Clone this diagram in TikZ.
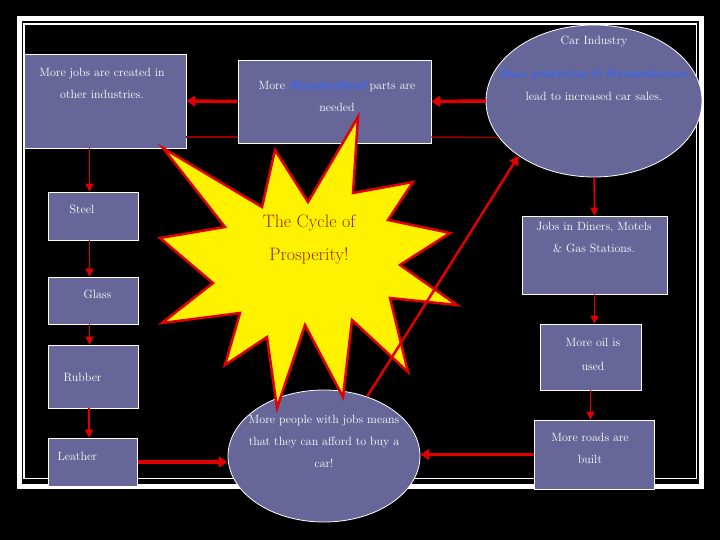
\documentclass[tikz,border=0pt]{standalone}
\usetikzlibrary{arrows.meta,shapes.geometric}
\definecolor{slate}{RGB}{102,102,153}
\definecolor{arrowred}{RGB}{225,0,0}
\definecolor{darkline}{RGB}{150,0,0}
\definecolor{inkblue}{RGB}{51,102,255}
\definecolor{cyclebrown}{RGB}{150,40,0}
\newcommand{\hilite}[1]{\textcolor{inkblue}{\bfseries\itshape #1}}
\begin{document}
\begin{tikzpicture}[x=1pt, y=-1pt,
  box/.style={draw=white, fill=slate, line width=0.8pt, inner sep=0pt},
  bubble/.style={ellipse, draw=white, fill=slate, line width=0.8pt, inner sep=0pt},
  txt/.style={text=white, align=center, font=\fontsize{12}{22}\selectfont},
  fat/.style={draw=arrowred, line width=3.5pt, -{Triangle[length=9pt,width=11pt]}},
  slim/.style={draw=arrowred, line width=1.6pt, -{Triangle[length=8pt,width=8pt]}},
  tie/.style={draw=darkline, line width=1.5pt}]
  \fill[black] (0,0) rectangle (720,540);
  \useasboundingbox (0,0) rectangle (720,540);
  % frame
  \draw[white, line width=5pt] (19,18.5) rectangle (701.5,486);
  \draw[white, line width=1.5pt] (24,24) rectangle (696.5,478.5);
  % boxes
  \node[box, minimum width=162, minimum height=94] (jobs) at (105,101) {};
  \node[box, minimum width=193, minimum height=83] (parts) at (334.5,101.5) {};
  \node[bubble, minimum width=216, minimum height=152] (car) at (594,101) {};
  \node[box, minimum width=90, minimum height=48] (steel) at (93.5,216) {};
  \node[box, minimum width=90, minimum height=47] (glass) at (93.5,300.5) {};
  \node[box, minimum width=90, minimum height=63] (rubber) at (93.5,376.5) {};
  \node[box, minimum width=89, minimum height=48] (leather) at (93,462) {};
  \node[bubble, minimum width=192, minimum height=132] (people) at (324,456) {};
  \node[box, minimum width=145, minimum height=78] (diners) at (594.5,255) {};
  \node[box, minimum width=101, minimum height=66] (oil) at (590.5,357) {};
  \node[box, minimum width=120, minimum height=69] (roads) at (594,454.5) {};
  % texts
  \node[txt] (jobstext) at (102,83) {More jobs are created in\\other industries.};
  \node[txt] (partstext) at (337,96) {More \hilite{Standardized} parts are\\needed};
  \node[txt] (cartitle) at (594,42) {Car Industry};
  \node[txt, font=\fontsize{10.5}{22}\selectfont] (carmass) at (594,75) {\hilite{Mass production \& Standardization}};
  \node[txt] (carsales) at (594,96) {lead to increased car sales.};
  \node[txt, anchor=west] (steeltext) at (66,209) {Steel};
  \node[txt, anchor=west] (glasstext) at (80,294) {Glass};
  \node[txt, anchor=west] (rubbertext) at (60,377) {Rubber};
  \node[txt, anchor=west] (leathertext) at (54,456) {Leather};
  \node[txt] (dinerstext) at (594,237.5) {Jobs in Diners, Motels\\\& Gas Stations.};
  \node[txt, font=\fontsize{12}{24}\selectfont] (oiltext) at (593,354) {More oil is\\used};
  \node[txt] (roadstext) at (590,448) {More roads are\\built};
  \node[txt] (peopletext) at (324,441) {More people with jobs means\\that they can afford to buy a\\car!};
  % connectors
  \draw[tie] ([yshift=-36]jobs.east) -- ([yshift=-36]jobs.east -| parts.west);
  \draw[tie] ([yshift=-35.5]parts.east) -- (car.201);
  \draw[fat] (car.west) -- (parts.east);
  \draw[fat] (parts.west) -- (jobs.east);
  \draw[slim] ([xshift=-4]steel.north |- jobs.south) -- ([xshift=-4]steel.north);
  \draw[slim] ([xshift=-4]glass.north |- steel.south) -- ([xshift=-4]glass.north);
  \draw[slim] ([xshift=-4]rubber.north |- glass.south) -- ([xshift=-4]rubber.north);
  \draw[slim] ([xshift=-4]leather.north |- rubber.south) -- ([xshift=-4]leather.north);
  \draw[fat] (leather.east) -- (leather.east -| people.west);
  \draw[slim] (car) -- (diners);
  \draw[slim] (diners.south) -- (diners.south |- oil.north);
  \draw[slim] (oil.south) -- (oil.south |- roads.north);
  \draw[fat] (roads.west) -- (roads.west -| people.east);
  % starburst
  \draw[arrowred, fill=yellow, line width=2.5pt, line join=miter]
    (358,117) -- (353,193) -- (413,182) -- (388,220) -- (450,233) -- (400,265)
    -- (457,305) -- (390,298) -- (408,372) -- (352,320) -- (343,397) -- (305,325)
    -- (277,408) -- (267,337) -- (225,365) -- (240,313) -- (162,323) -- (213,283)
    -- (160,238) -- (225,227) -- (163,148) -- (262,207) -- (275,150) -- (308,202)
    -- cycle;
  \node[text=cyclebrown, align=center, font=\fontsize{18}{33}\selectfont] (cycle) at (309,239.5) {The Cycle of\\Prosperity!};
  \draw[draw=arrowred, line width=2.5pt, -{Triangle[length=9pt,width=10pt]}] (people.54) -- (car.216);
\end{tikzpicture}
\end{document}
